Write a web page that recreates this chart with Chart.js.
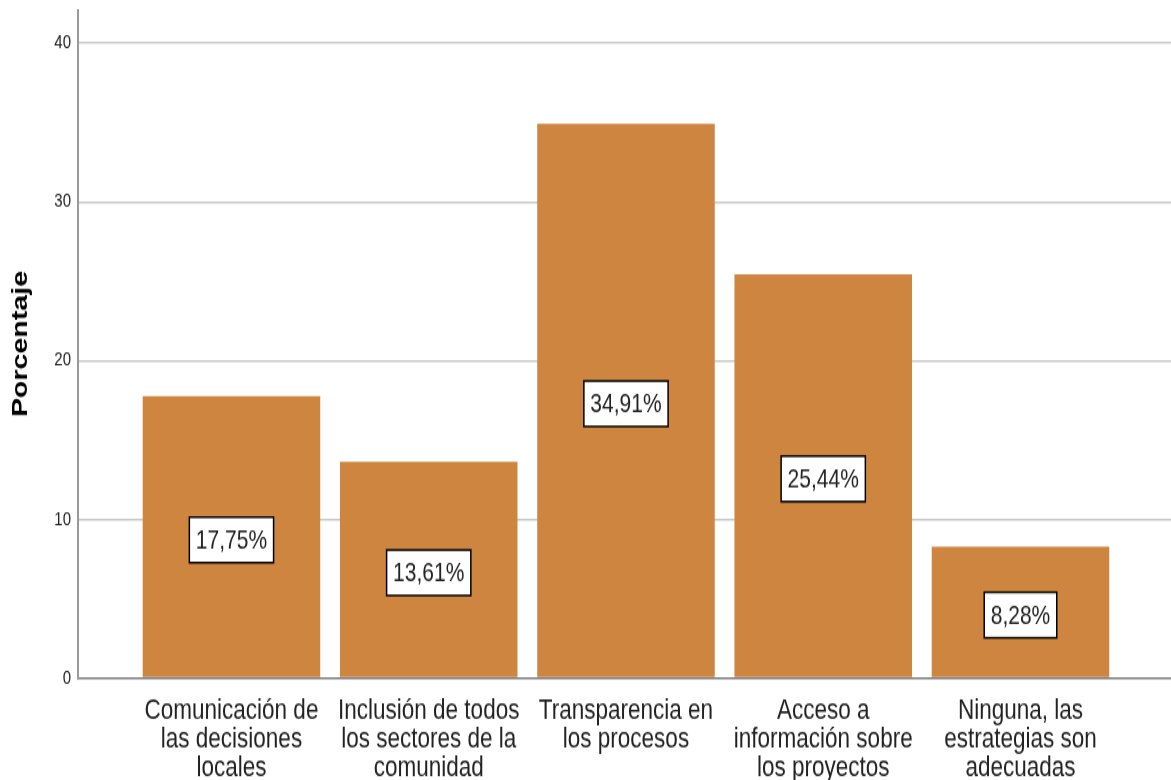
<!DOCTYPE html>
<html>
<head>
<meta charset="utf-8">
<script src="https://cdn.jsdelivr.net/npm/chart.js@4"></script>
<style>
  body { margin: 0; background: #fff; }
  #wrap { width: 1171px; height: 780px; overflow: hidden; }
  /* the reference is a vertically stretched export, so draw at 600px and stretch */
  #chart { transform: scaleY(1.3); transform-origin: 0 0; }
</style>
</head>
<body>
<div id="wrap"><canvas id="chart" width="1171" height="600" style="width:1171px;height:600px"></canvas></div>
<script>
const categories = [
    ["Comunicación de", "las decisiones", "locales"],
    ["Inclusión de todos", "los sectores de la", "comunidad"],
    ["Transparencia en", "los procesos"],
    ["Acceso a", "información sobre", "los proyectos"],
    ["Ninguna, las", "estrategias son", "adecuadas"]
];
const percentages = [17.75, 13.61, 34.91, 25.44, 8.28];
const yTicks = [0, 10, 20, 30, 40];

const barColor = "#cd853f";

const valueBoxes = {
    id: "valueBoxes",
    afterDatasetsDraw(chart) {
        const ctx = chart.ctx;
        const meta = chart.getDatasetMeta(0);
        ctx.save();
        ctx.font = "21px 'Liberation Sans', Arial, sans-serif";
        ctx.textAlign = "center";
        ctx.textBaseline = "middle";
        meta.data.forEach((bar, i) => {
            const text = percentages[i].toFixed(2).replace(".", ",") + "%";
            const w = ctx.measureText(text).width + 13;
            const h = 35;
            const cx = bar.x;
            const cy = (bar.y + bar.base) / 2 + 2.5;
            ctx.fillStyle = "#ffffff";
            ctx.fillRect(cx - w / 2, cy - h / 2, w, h);
            ctx.strokeStyle = "#000000";
            ctx.lineWidth = 1.5;
            ctx.strokeRect(cx - w / 2, cy - h / 2, w, h);
            ctx.fillStyle = "#222222";
            ctx.fillText(text, cx, cy + 1);
        });
        ctx.restore();
    }
};

new Chart(document.getElementById("chart"), {
    type: "bar",
    data: {
        datasets: [{
            data: percentages.map((v, i) => ({ x: i, y: v })),
            backgroundColor: barColor,
            borderWidth: 0,
            barPercentage: 0.9,
            categoryPercentage: 1
        }]
    },
    options: {
        responsive: false,
        animation: false,
        devicePixelRatio: 1,
        layout: { padding: { top: 7.7, right: 0, left: 0, bottom: 0 } },
        plugins: {
            legend: { display: false },
            tooltip: { enabled: false }
        },
        scales: {
            x: {
                type: "linear",
                offset: false,
                min: -0.778,
                max: 4.763,
                afterBuildTicks(scale) {
                    scale.ticks = categories.map((c, i) => ({ value: i }));
                },
                afterFit(scale) {
                    scale.height = 78.5;
                    scale.paddingLeft = 0;
                    scale.paddingRight = 0;
                },
                grid: { display: false, drawTicks: false },
                border: { display: true, color: "#7a7a7a", width: 1.5 },
                ticks: {
                    autoSkip: false,
                    maxRotation: 0,
                    padding: 14,
                    color: "#222222",
                    font: { family: "'Liberation Sans', Arial, sans-serif", size: 22.5, lineHeight: 0.98 },
                    callback: (value) => categories[value]
                }
            },
            y: {
                min: 0,
                max: 42.09,
                afterBuildTicks(scale) {
                    scale.ticks = yTicks.map(v => ({ value: v }));
                },
                afterFit(scale) {
                    scale.width = 78;
                    scale.paddingTop = 0;
                    scale.paddingBottom = 0;
                },
                grid: {
                    drawTicks: false,
                    lineWidth: 1.5,
                    color: (c) => c.tick && c.tick.value === 0 ? "rgba(0,0,0,0)" : "#c8c8c8"
                },
                border: { display: true, color: "#999999", width: 2 },
                ticks: {
                    padding: 7,
                    color: "#222222",
                    font: { family: "'Liberation Sans', Arial, sans-serif", size: 15 }
                },
                title: {
                    display: true,
                    text: "Porcentaje",
                    color: "#000000",
                    padding: { top: 8, bottom: 0 },
                    font: { family: "'Liberation Sans', Arial, sans-serif", size: 22, weight: "bold" }
                }
            }
        }
    },
    plugins: [valueBoxes]
});
</script>
</body>
</html>
